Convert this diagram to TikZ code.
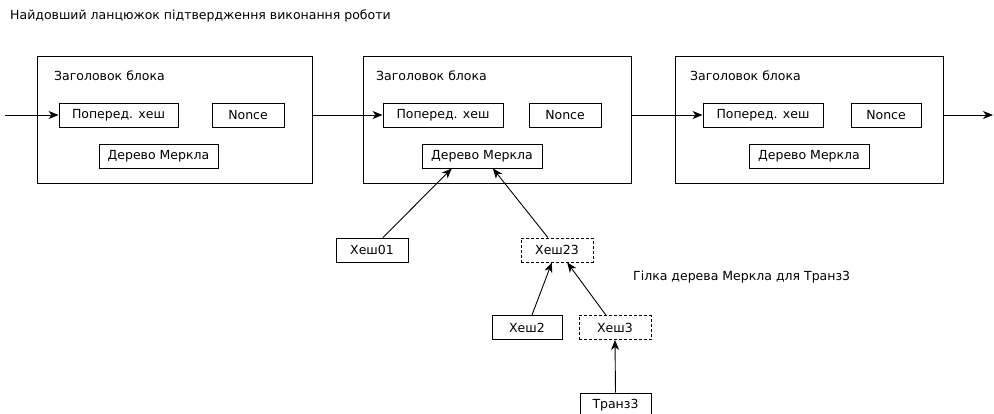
\documentclass[tikz,border=0pt]{standalone}
\usepackage{fontspec}
\setmainfont{DejaVu Sans}
\usetikzlibrary{arrows.meta,calc}
\begin{document}
\begin{tikzpicture}[x=1pt,y=-1pt,
  every node/.style={font=\fontsize{12.5}{15}\selectfont},
  box/.style={draw, line width=0.9pt, minimum height=24pt, inner sep=0pt, anchor=center},
  blockbox/.style={draw, line width=0.9pt, inner sep=0pt, minimum height=127pt},
  dbox/.style={box, dash pattern=on 3pt off 2pt},
  lbl/.style={inner sep=0pt, anchor=west},
  arr/.style={-{Stealth[length=10pt,width=8pt,inset=3pt]}, line width=0.9pt}
]
\useasboundingbox (0,0) rectangle (994,414);
\clip (0,0) rectangle (994,414);

\node[lbl] (title) at (10,16) {Найдовший ланцюжок підтвердження виконання роботи};

% blocks
\node[blockbox, minimum width=275pt] (b1) at (174.5,119.5) {};
\node[blockbox, minimum width=268pt] (b2) at (497,119.5) {};
\node[blockbox, minimum width=268pt] (b3) at (809,119.5) {};

\node[lbl] (h1) at (54,76) {Заголовок блока};
\node[lbl] (h2) at (376,76) {Заголовок блока};
\node[lbl] (h3) at (690,76) {Заголовок блока};

\node[box, minimum width=119pt] (p1) at (118.5,115) {Поперед. хеш};
\node[box, minimum width=72pt] (n1) at (248,115) {Nonce};
\node[box, minimum width=119pt] (m1) at (158.5,156) {Дерево Меркла};

\node[box, minimum width=120pt] (p2) at (443,115) {Поперед. хеш};
\node[box, minimum width=72pt] (n2) at (565,115) {Nonce};
\node[box, minimum width=120pt] (m2) at (482,156) {Дерево Меркла};

\node[box, minimum width=120pt] (p3) at (763,115) {Поперед. хеш};
\node[box, minimum width=70pt] (n3) at (886,115) {Nonce};
\node[box, minimum width=120pt] (m3) at (809,156) {Дерево Меркла};

% chain arrows
\coordinate (cin) at (5,115);
\coordinate (cout) at (993,115);
\draw[arr] (cin) -- (p1.west);
\draw[arr] (b1.east |- p1.west) -- (p2.west);
\draw[arr] (b2.east |- p2.west) -- (p3.west);
\draw[arr] (b3.east |- p3.west) -- (cout);

% merkle branch
\node[box, minimum width=72pt] (x01) at (372,250) {Хеш01};
\node[dbox, minimum width=72pt] (x23) at (557,250) {Хеш23};
\node[box, minimum width=70pt] (x2) at (527,327.5) {Хеш2};
\node[dbox, minimum width=72pt] (x3) at (615,327.5) {Хеш3};
\node[box, minimum width=71pt] (t3) at (615.5,405) {Транз3};

\node[lbl] (branch) at (633,277) {Гілка дерева Меркла для Транз3};

\draw[arr] ($(x01.north west)!0.65!(x01.north east)$) -- ($(m2.south west)!0.25!(m2.south east)$);
\draw[arr] ($(x23.north west)!0.375!(x23.north east)$) -- ($(m2.south west)!0.59!(m2.south east)$);
\draw[arr] ($(x2.north west)!0.57!(x2.north east)$) -- ($(x23.south west)!0.43!(x23.south east)$);
\draw[arr] ($(x3.north west)!0.375!(x3.north east)$) -- ($(x23.south west)!0.64!(x23.south east)$);
\draw[arr] (t3.north) -- (x3.south);
\end{tikzpicture}
\end{document}
